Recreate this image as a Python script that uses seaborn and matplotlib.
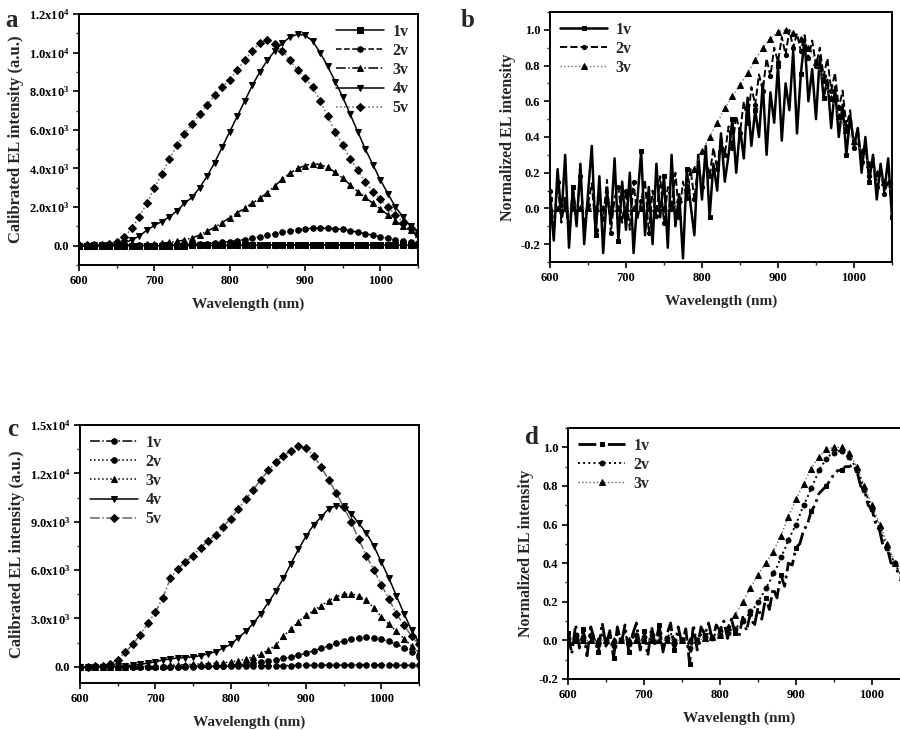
import pandas as pd
import seaborn as sns
import matplotlib.pyplot as plt
from matplotlib.ticker import MultipleLocator

# wavelength grids (nm)
wl_10 = list(range(600, 1051, 10))
wl_5 = list(range(600, 1051, 5))

# panel a - calibrated EL intensity
a_1v = [0, 0, 0, 0, 0, 0, 0, 0, 0, 0,
        0, 0, 5, 5, 5, 10, 10, 10, 15, 15,
        20, 20, 25, 25, 30, 30, 35, 35, 40, 40,
        45, 45, 45, 45, 45, 40, 40, 40, 35, 35,
        30, 30, 25, 25, 20, 20]
a_2v = [0, 0, 0, 0, 0, 10, 10, 10, 20, 20,
        30, 30, 40, 50, 60, 70, 90, 110, 140, 170,
        210, 260, 320, 390, 460, 540, 620, 700, 770, 830,
        870, 900, 910, 900, 880, 840, 780, 700, 620, 540,
        460, 380, 310, 240, 180, 130]
a_3v = [0, 0, 0, 10, 10, 20, 30, 40, 60, 80,
        100, 130, 170, 220, 300, 400, 550, 750, 950, 1200,
        1450, 1700, 1950, 2200, 2450, 2750, 3100, 3450, 3750, 4000,
        4150, 4250, 4200, 4050, 3800, 3500, 3150, 2800, 2500, 2200,
        1900, 1600, 1300, 1000, 800, 600]
a_4v = [0, 0, 10, 20, 40, 80, 150, 300, 500, 800,
        1050, 1250, 1500, 1800, 2200, 2500, 3000, 3600, 4300, 5100,
        5900, 6700, 7500, 8300, 9000, 9600, 10100, 10500, 10800, 10950,
        10900, 10600, 10000, 9300, 8500, 7700, 6800, 5900, 5000, 4200,
        3400, 2700, 2000, 1500, 1000, 700]
a_5v = [20, 30, 40, 60, 100, 200, 450, 900, 1500, 2200,
        3000, 3700, 4500, 5200, 5800, 6300, 6800, 7300, 7800, 8200,
        8600, 9100, 9600, 10100, 10500, 10650, 10450, 10100, 9600, 9100,
        8700, 8200, 7500, 6700, 5900, 5200, 4500, 3900, 3300, 2800,
        2400, 2000, 1600, 1200, 900, 600]

# panel c - calibrated EL intensity
c_1v = [0, 0, 0, 0, 0, 0, 0, 0, 0, 0,
        10, 10, 10, 20, 20, 20, 30, 30, 30, 40,
        40, 50, 50, 60, 60, 70, 70, 80, 80, 90,
        90, 100, 100, 110, 110, 110, 120, 120, 120, 120,
        110, 110, 100, 100, 90, 90]
c_2v = [0, 0, 0, 0, 0, 0, 0, 0, 0, 0,
        10, 10, 20, 20, 30, 30, 40, 50, 60, 80,
        100, 130, 170, 220, 280, 350, 430, 520, 620, 720,
        850, 1000, 1150, 1300, 1450, 1600, 1720, 1800, 1830, 1780,
        1700, 1580, 1400, 1180, 950, 600]
c_3v = [0, 0, 0, 0, 10, 10, 20, 30, 40, 50,
        60, 80, 100, 120, 140, 160, 180, 200, 230, 260,
        300, 380, 480, 620, 800, 1050, 1350, 1900, 2350, 2800,
        3200, 3500, 3800, 4100, 4350, 4500, 4550, 4400, 4150, 3650,
        3100, 2650, 2200, 1750, 1300, 900]
c_4v = [0, 0, 0, 10, 20, 40, 70, 110, 160, 230,
        320, 420, 500, 550, 580, 620, 700, 800, 950, 1150,
        1400, 1800, 2200, 2700, 3300, 4000, 4700, 5500, 6400, 7300,
        8100, 8800, 9300, 9800, 10000, 9950, 9500, 8900, 8300, 7500,
        6500, 5500, 4400, 3300, 2300, 1500]
c_5v = [0, 10, 30, 60, 150, 450, 900, 1400, 2000, 2700,
        3400, 4300, 5500, 6100, 6500, 6900, 7400, 7800, 8200, 8700,
        9200, 9800, 10400, 11000, 11600, 12200, 12700, 13100, 13400, 13700,
        13600, 13100, 12400, 11600, 10800, 9900, 9000, 7900, 6900, 6000,
        5100, 4200, 3300, 2600, 1900, 1400]

# panel b - normalized EL intensity
b_1v = [0.05, -0.18, 0.22, -0.05, 0.30, -0.22, 0.12, -0.10, 0.25, -0.20,
        0.08, 0.35, -0.15, 0.18, -0.25, 0.10, -0.08, 0.28, -0.18, 0.15,
        -0.12, 0.20, -0.25, 0.05, 0.32, -0.15, 0.12, -0.20, 0.25, -0.05,
        0.18, -0.22, 0.30, -0.10, 0.08, -0.28, 0.22, 0.02, -0.15, 0.30,
        0.05, 0.35, -0.05, 0.25, 0.10, 0.42, 0.15, 0.30, 0.50, 0.20,
        0.45, 0.28, 0.62, 0.35, 0.55, 0.40, 0.70, 0.30, 0.65, 0.48,
        0.80, 0.38, 0.70, 0.55, 0.88, 0.42, 0.75, 0.95, 0.60, 0.78,
        0.50, 0.85, 0.62, 0.72, 0.45, 0.68, 0.40, 0.58, 0.30, 0.52,
        0.35, 0.45, 0.20, 0.40, 0.15, 0.30, 0.05, 0.25, 0.10, 0.28, -0.05]
b_2v = [0.10, -0.12, 0.15, -0.08, 0.05, -0.15, 0.12, -0.05, 0.18, -0.10,
        0.02, 0.14, -0.12, 0.08, -0.06, 0.16, -0.14, 0.06, 0.12, -0.08,
        0.10, -0.12, 0.15, -0.06, 0.04, 0.16, -0.14, 0.10, -0.04, 0.18,
        -0.08, 0.12, 0.02, 0.20, -0.05, 0.15, 0.06, 0.22, 0.05, 0.25,
        0.12, 0.28, 0.18, 0.34, 0.22, 0.40, 0.30, 0.46, 0.34, 0.52,
        0.42, 0.60, 0.48, 0.68, 0.58, 0.75, 0.66, 0.84, 0.74, 0.90,
        0.82, 0.96, 0.86, 1.00, 0.90, 0.98, 0.88, 0.97, 0.84, 0.94,
        0.80, 0.90, 0.74, 0.84, 0.66, 0.76, 0.56, 0.66, 0.46, 0.55,
        0.34, 0.45, 0.26, 0.36, 0.18, 0.30, 0.12, 0.22, 0.08, 0.16, 0.05]
b_3v = [0.0, 0.0, 0.0, 0.0, 0.0, 0.0, 0.0, 0.0, 0.0, 0.0,
        0.0, 0.0, 0.0, 0.0, 0.0, 0.0, 0.0, 0.05, 0.12, 0.22,
        0.32, 0.40, 0.48, 0.56, 0.63, 0.69, 0.76, 0.83, 0.90, 0.95,
        0.99, 1.00, 0.98, 0.95, 0.90, 0.82, 0.72, 0.62, 0.52, 0.44,
        0.38, 0.32, 0.25, 0.20, 0.15, 0.10]

# panel d - normalized EL intensity
d_1v = [0.04, -0.07, 0.08, -0.04, 0.06, -0.08, 0.07, 0.00, -0.06, 0.09,
        -0.03, 0.05, -0.09, 0.07, -0.02, 0.08, -0.06, 0.03, 0.09, -0.05,
        0.05, -0.08, 0.07, -0.03, 0.08, -0.06, 0.03, 0.09, -0.05, 0.07,
        -0.02, 0.06, -0.12, 0.08, -0.05, 0.07, 0.03, 0.09, 0.00, 0.08,
        0.05, 0.10, 0.01, 0.11, 0.04, 0.02, 0.12, 0.05, 0.14, 0.07,
        0.17, 0.11, 0.22, 0.16, 0.27, 0.22, 0.34, 0.28, 0.40, 0.39,
        0.48, 0.50, 0.57, 0.60, 0.67, 0.70, 0.76, 0.78, 0.80, 0.83,
        0.86, 0.88, 0.88, 0.90, 0.90, 0.91, 0.88, 0.80, 0.78, 0.70,
        0.68, 0.60, 0.57, 0.48, 0.48, 0.40, 0.40, 0.34, 0.35, 0.29, 0.30]
d_2v = [0.01, -0.03, 0.03, -0.02, 0.02, -0.04, 0.03, 0.00, -0.02, 0.04,
        -0.01, 0.02, -0.03, 0.03, 0.00, 0.04, -0.02, 0.01, 0.03, -0.02,
        0.02, -0.03, 0.03, -0.01, 0.04, -0.02, 0.01, 0.04, -0.02, 0.03,
        0.00, 0.02, -0.04, 0.03, -0.01, 0.03, 0.02, 0.04, 0.01, 0.04,
        0.03, 0.05, 0.04, 0.07, 0.06, 0.08, 0.10, 0.12, 0.15, 0.17,
        0.20, 0.23, 0.27, 0.30, 0.35, 0.38, 0.43, 0.47, 0.52, 0.56,
        0.60, 0.65, 0.70, 0.74, 0.79, 0.83, 0.88, 0.91, 0.94, 0.96,
        0.97, 0.98, 0.98, 0.96, 0.95, 0.92, 0.88, 0.84, 0.78, 0.73,
        0.68, 0.63, 0.58, 0.53, 0.48, 0.44, 0.40, 0.36, 0.33, 0.30, 0.28]
d_3v = [0.0, 0.0, 0.0, 0.0, 0.0, 0.0, 0.0, 0.0, 0.0, 0.0,
        0.0, 0.0, 0.0, 0.0, 0.0, 0.0, 0.0, 0.0, 0.01, 0.02,
        0.03, 0.07, 0.13, 0.20, 0.27, 0.34, 0.40, 0.46, 0.54, 0.64,
        0.73, 0.81, 0.89, 0.95, 0.99, 1.00, 1.00, 0.97, 0.90, 0.80,
        0.70, 0.60, 0.50, 0.40, 0.33, 0.28]

labels = ['1v', '2v', '3v', '4v', '5v']

sns.set_theme(style="ticks")
plt.rcParams['font.family'] = ['Liberation Serif', 'DejaVu Serif']
plt.rcParams['font.weight'] = 'bold'
plt.rcParams['axes.labelweight'] = 'bold'
plt.rcParams['mathtext.fontset'] = 'custom'
plt.rcParams['mathtext.rm'] = 'Liberation Serif:bold'
plt.rcParams['mathtext.bf'] = 'Liberation Serif:bold'
plt.rcParams['mathtext.default'] = 'bf'
plt.rcParams['xtick.direction'] = 'out'
plt.rcParams['ytick.direction'] = 'out'

fig = plt.figure(figsize=(9, 7.3), dpi=100)

mk_kw = dict(markerfacecolor='black', markeredgecolor='black')


def style_axis(ax, ylabel, ysize):
    ax.set_xlim(600, 1050)
    ax.xaxis.set_major_locator(MultipleLocator(100))
    ax.xaxis.set_minor_locator(MultipleLocator(50))
    ax.set_xlabel('Wavelength (nm)', fontsize=11, labelpad=8)
    ax.set_ylabel(ylabel, fontsize=ysize, labelpad=3)
    ax.tick_params(which='major', length=4, width=1.2, labelsize=9, colors='black', pad=3)
    ax.tick_params(which='minor', length=2, width=1.0)
    for sp in ax.spines.values():
        sp.set_linewidth(1.4)
        sp.set_color('black')
    for lab in ax.get_xticklabels() + ax.get_yticklabels():
        lab.set_fontweight('bold')


def legend(ax, loc, bbox):
    leg = ax.legend(loc=loc, bbox_to_anchor=bbox, frameon=False, handlelength=3.0,
                    fontsize=11.5, labelspacing=0.2, handletextpad=0.5, borderaxespad=0.2)
    for t in leg.get_texts():
        t.set_fontweight('bold')


# ---- panel a ----
ax_a = fig.add_axes([0.0878, 0.637, 0.3767, 0.3438])
styles_a = [('-', 's', 'black'), ('--', 'o', 'black'), ('-.', '^', 'black'),
            ('-', 'v', 'black'), (':', 'D', '0.4')]
for lab, ys, (ls, mk, col) in zip(labels, [a_1v, a_2v, a_3v, a_4v, a_5v], styles_a):
    sns.lineplot(x=wl_10, y=ys, ax=ax_a, label=lab, color=col, linestyle=ls, linewidth=1.1,
                 marker=mk, markersize=4, **mk_kw)
ax_a.set_ylim(-1000, 12000)
ax_a.set_yticks([0, 2000, 4000, 6000, 8000, 10000, 12000])
ax_a.yaxis.set_minor_locator(MultipleLocator(1000))
ax_a.set_yticklabels(['0.0', r'2.0x10$^3$', r'4.0x10$^3$', r'6.0x10$^3$', r'8.0x10$^3$',
                      r'1.0x10$^4$', r'1.2x10$^4$'])
style_axis(ax_a, 'Calibrated EL intensity (a.u.)', 12)
legend(ax_a, 'upper right', (1.0, 1.0))

# ---- panel b ----
ax_b = fig.add_axes([0.6111, 0.6411, 0.38, 0.3425])
sns.lineplot(x=wl_5, y=b_1v, ax=ax_b, label='1v', color='black', linestyle='-', linewidth=1.8,
             marker='s', markersize=2.5, markevery=6, **mk_kw)
sns.lineplot(x=wl_5, y=b_2v, ax=ax_b, label='2v', color='black', linestyle='--', linewidth=1.4,
             marker='o', markersize=3, markevery=2, **mk_kw)
sns.lineplot(x=wl_10, y=b_3v, ax=ax_b, label='3v', color='0.45', linestyle=':', linewidth=1.0,
             marker='^', markersize=4, **mk_kw)
ax_b.set_ylim(-0.3, 1.1)
ax_b.set_yticks([-0.2, 0.0, 0.2, 0.4, 0.6, 0.8, 1.0])
ax_b.yaxis.set_minor_locator(MultipleLocator(0.1))
ax_b.set_yticklabels(['-0.2', '0.0', '0.2', '0.4', '0.6', '0.8', '1.0'])
style_axis(ax_b, 'Normalized EL intensity', 11.5)
legend(ax_b, 'upper left', (0.0, 1.0))

# ---- panel c ----
ax_c = fig.add_axes([0.0889, 0.0644, 0.3767, 0.3534])
styles_c = [('-.', 'o', 'black'), (':', 'o', 'black'), (':', '^', 'black'),
            ('-', 'v', 'black'), ('-.', 'D', '0.4')]
for lab, ys, (ls, mk, col) in zip(labels, [c_1v, c_2v, c_3v, c_4v, c_5v], styles_c):
    sns.lineplot(x=wl_10, y=ys, ax=ax_c, label=lab, color=col, linestyle=ls, linewidth=1.1,
                 marker=mk, markersize=4, **mk_kw)
ax_c.set_ylim(-1000, 15000)
ax_c.set_yticks([0, 3000, 6000, 9000, 12000, 15000])
ax_c.yaxis.set_minor_locator(MultipleLocator(1500))
ax_c.set_yticklabels(['0.0', r'3.0x10$^3$', r'6.0x10$^3$', r'9.0x10$^3$',
                      r'1.2x10$^4$', r'1.5x10$^4$'])
style_axis(ax_c, 'Calibrated EL intensity (a.u.)', 12)
legend(ax_c, 'upper left', (0.0, 1.0))

# ---- panel d ----
ax_d = fig.add_axes([0.6311, 0.0699, 0.38, 0.3438])
sns.lineplot(x=wl_5, y=d_1v, ax=ax_d, label='1v', color='black', linestyle='-.', linewidth=2.0,
             marker='s', markersize=3, markevery=4, **mk_kw)
sns.lineplot(x=wl_5, y=d_2v, ax=ax_d, label='2v', color='black', linestyle=':', linewidth=1.4,
             marker='o', markersize=3.5, markevery=2, **mk_kw)
sns.lineplot(x=wl_10, y=d_3v, ax=ax_d, label='3v', color='0.4', linestyle=':', linewidth=1.0,
             marker='^', markersize=4, **mk_kw)
ax_d.set_ylim(-0.2, 1.1)
ax_d.set_yticks([-0.2, 0.0, 0.2, 0.4, 0.6, 0.8, 1.0])
ax_d.yaxis.set_minor_locator(MultipleLocator(0.1))
ax_d.set_yticklabels(['-0.2', '0.0', '0.2', '0.4', '0.6', '0.8', '1.0'])
style_axis(ax_d, 'Normalized EL intensity', 11.5)
legend(ax_d, 'upper left', (0.0, 1.0))

# panel letters
fig.text(0.006, 0.972, 'a', fontsize=18, fontweight='bold', va='center')
fig.text(0.512, 0.972, 'b', fontsize=18, fontweight='bold', va='center')
fig.text(0.008, 0.412, 'c', fontsize=18, fontweight='bold', va='center')
fig.text(0.583, 0.400, 'd', fontsize=18, fontweight='bold', va='center')

plt.savefig('out.png', dpi=100, facecolor='white')
